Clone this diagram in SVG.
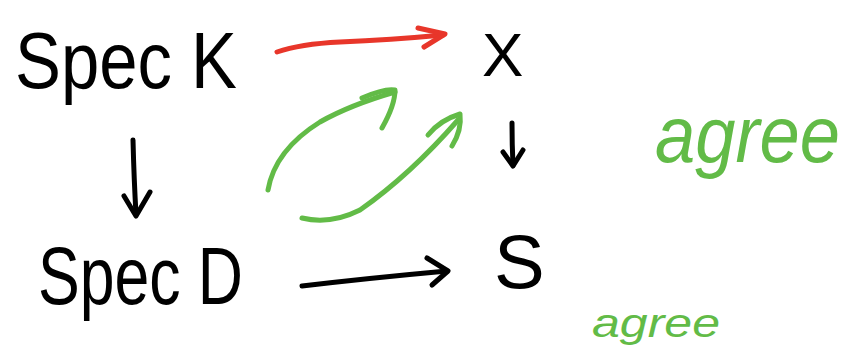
<svg xmlns="http://www.w3.org/2000/svg" width="858" height="349" viewBox="0 0 858 349">
<defs>
<style>
.t{font-family:"Liberation Sans","DejaVu Sans",sans-serif;fill:#000}
.g{font-family:"Liberation Sans","DejaVu Sans",sans-serif;fill:#62bb47;font-style:italic}
.c{fill:none;stroke-width:5;stroke-linecap:round;stroke-linejoin:round}
.k{stroke:#000}
.r{stroke:#e8362a}
.gr{stroke:#62bb47}
</style>
</defs>
<rect width="858" height="349" fill="#fff"/>
<g id="specK"><text class="t" x="15" y="88" font-size="80" textLength="222" lengthAdjust="spacingAndGlyphs">Spec K</text></g>
<g id="X"><text class="t" x="482" y="76" font-size="62">X</text></g>
<g id="specD"><text class="t" x="38" y="304" font-size="82" textLength="205" lengthAdjust="spacingAndGlyphs">Spec D</text></g>
<g id="S"><text class="t" x="494" y="288" font-size="76">S</text></g>
<g id="agree"><text class="g" x="655" y="162" font-size="80" textLength="185" lengthAdjust="spacingAndGlyphs">agree</text></g>
<g id="agree2"><text class="g" x="592" y="337" font-size="40" textLength="128" lengthAdjust="spacingAndGlyphs">agree</text></g>
<g id="connectors">
<path class="c r" d="M277 52 Q300 44 340 42 Q390 40 443 35"/>
<path class="c r" d="M418 28 L445 34 L424 47"/>
<path class="c k" d="M133 140 Q134 180 136 214"/>
<path class="c k" d="M124 196 L136 216 L150 192"/>
<path class="c k" d="M512 123 Q512 145 513 165"/>
<path class="c k" d="M503 152 L513 166 L523 150"/>
<path class="c k" d="M302 286 Q370 278 447 271"/>
<path class="c k" d="M427 258 L448 271 L432 285"/>
<path class="c gr" d="M268 190 Q275 150 320 122 Q350 105 395 92"/>
<path class="c gr" d="M362 98 Q385 88 395 90 Q395 105 382 128"/>
<path class="c gr" d="M302 218 Q330 225 360 210 Q410 175 458 120"/>
<path class="c gr" d="M428 135 Q440 120 460 114 Q462 130 452 146"/>
</g>
</svg>
